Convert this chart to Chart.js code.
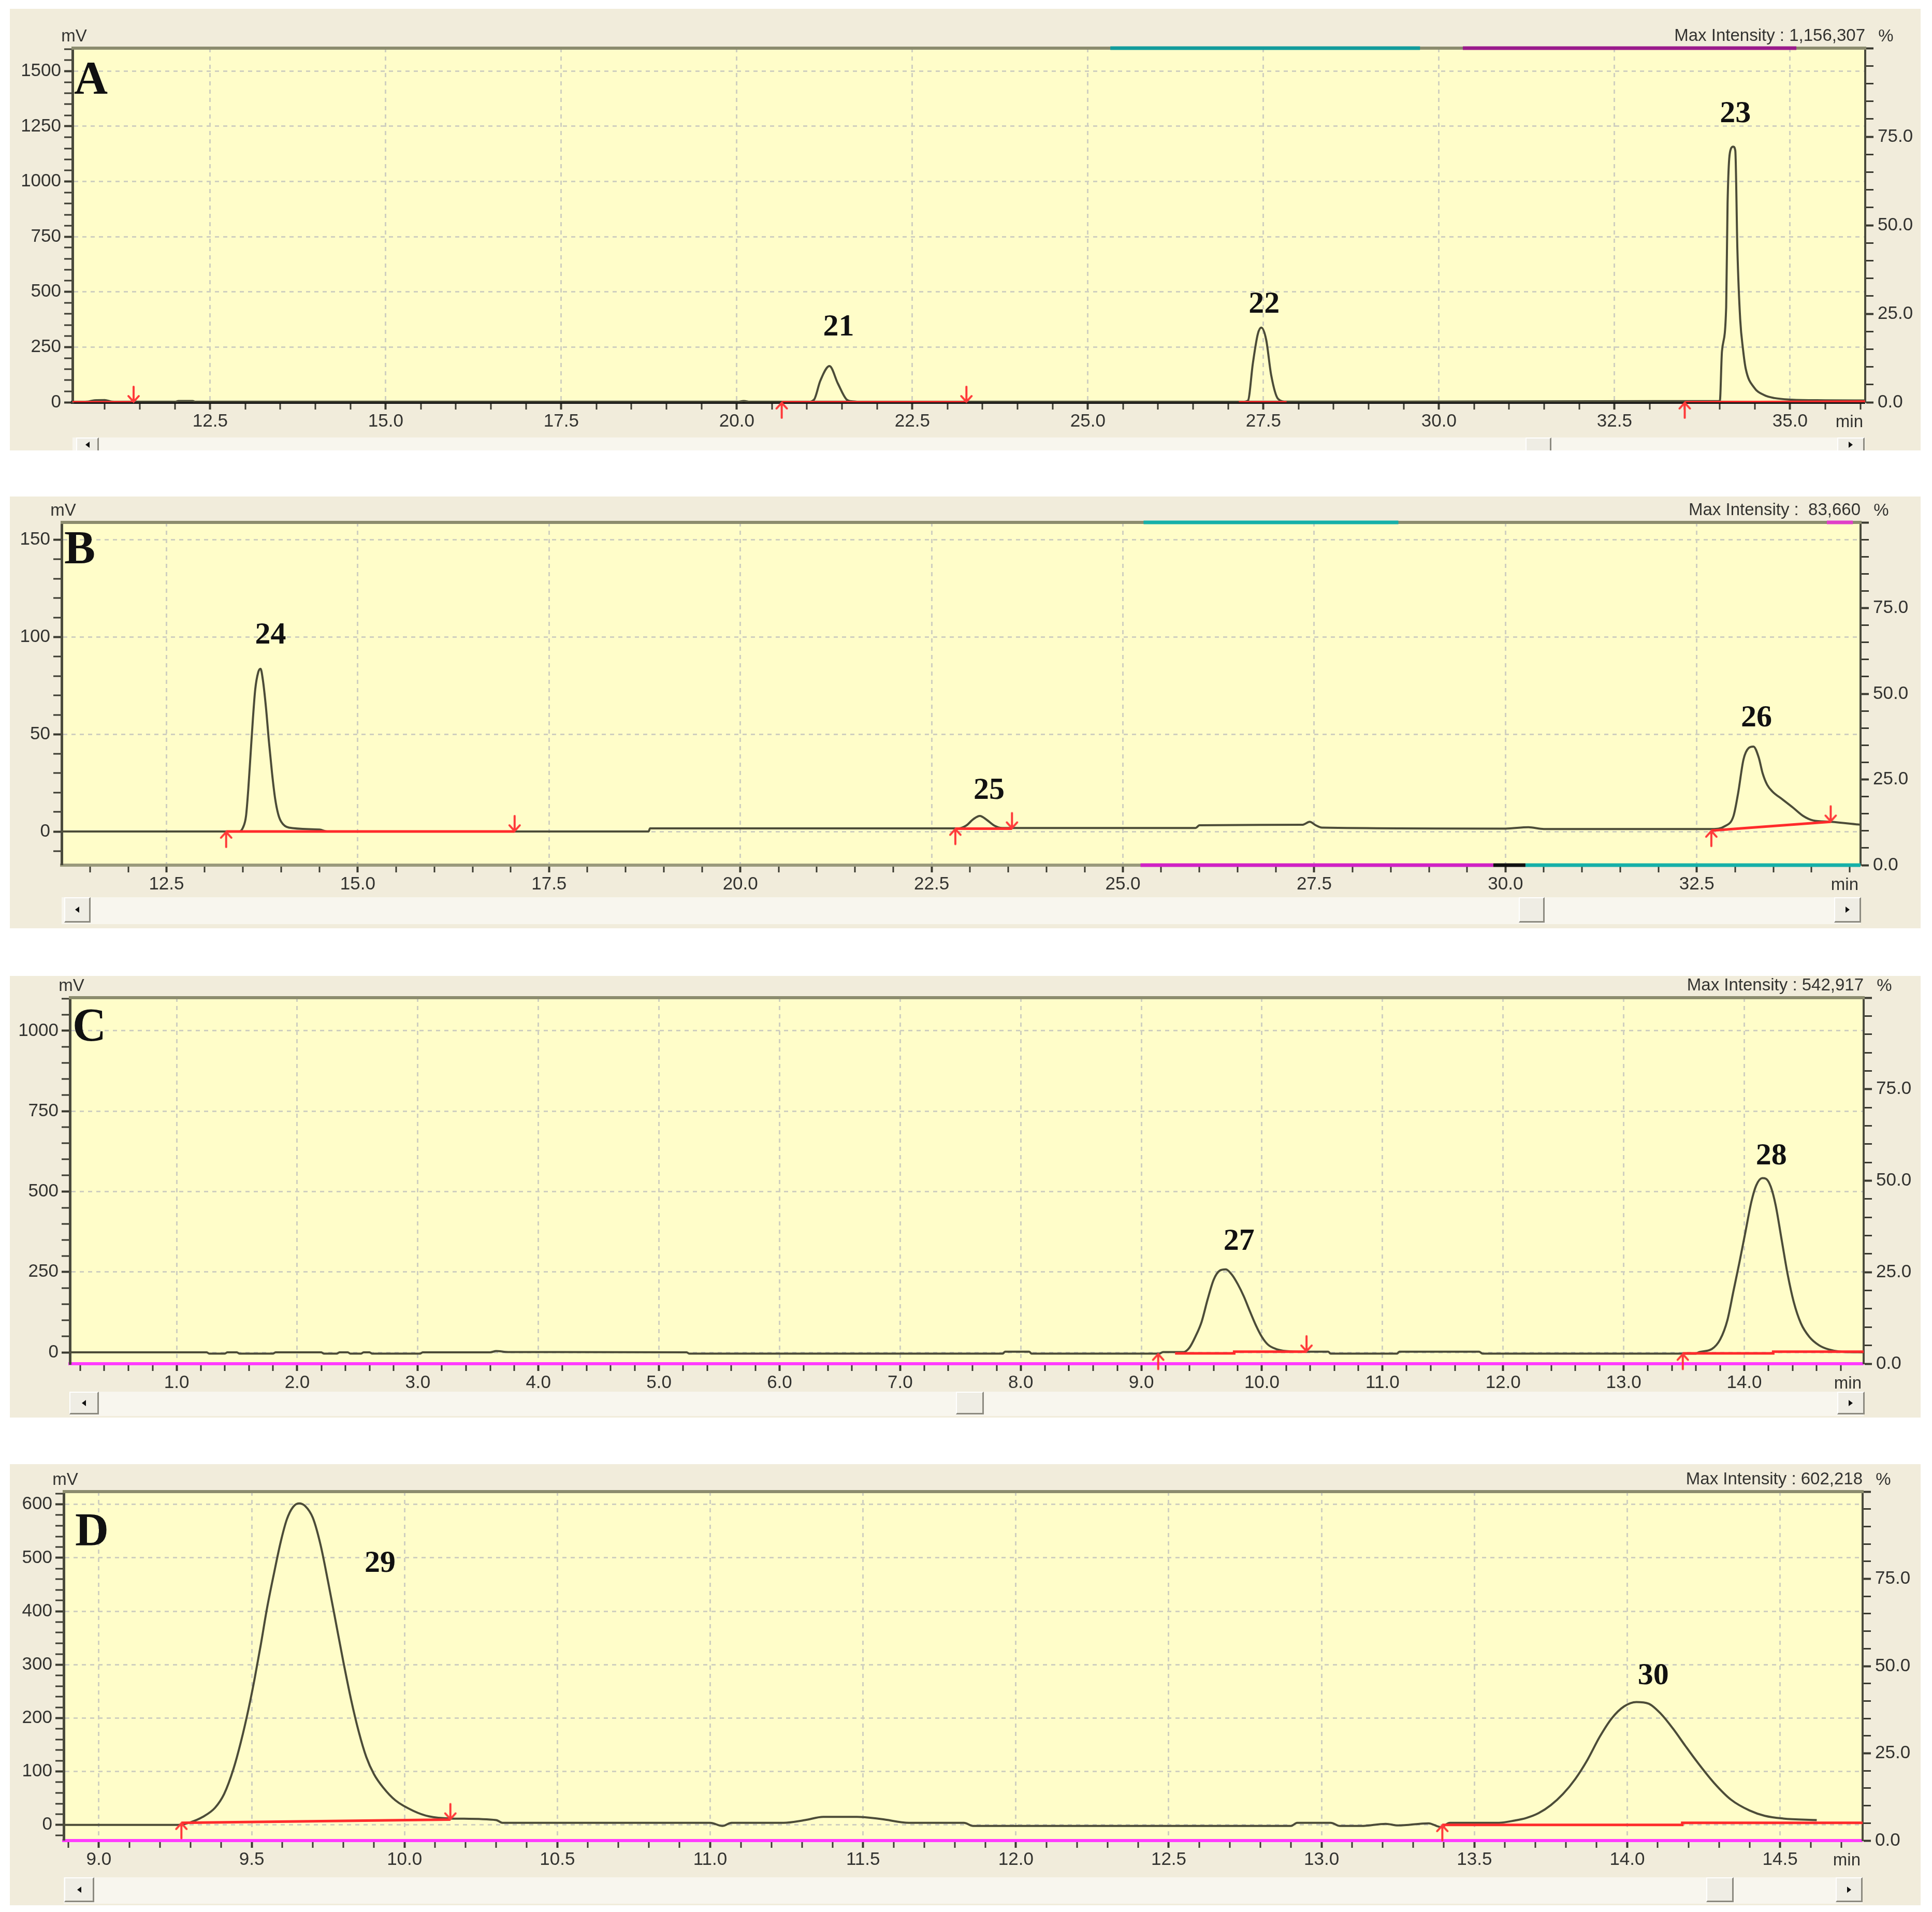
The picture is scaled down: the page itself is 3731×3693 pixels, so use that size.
<!DOCTYPE html>
<html>
<head>
<meta charset="utf-8">
<title>Chromatograms A-D</title>
<script src="https://cdn.jsdelivr.net/npm/chart.js@4.4.1/dist/chart.umd.min.js"></script>
<style>
  html, body { margin: 0; padding: 0; background: #ffffff; }
  body { width: 3731px; height: 3693px; position: relative; overflow: hidden; }
  .panel { position: absolute; background: #f1ecdb; overflow: hidden; }
  .panel canvas { position: absolute; left: 0; top: 0; }
  .scroll { position: absolute; background: #f8f6ee; }
  .btn { position: absolute; top: 3px; bottom: 3px; box-sizing: border-box; background: #efede4;
         border-top: 2px solid #ffffff; border-left: 2px solid #ffffff;
         border-right: 3px solid #8c8a80; border-bottom: 3px solid #8c8a80; }
  .tri { position: absolute; left: 50%; top: 50%; width: 0; height: 0; margin: -6px 0 0 -4px;
         border-top: 6px solid transparent; border-bottom: 6px solid transparent; }
  .tri.l { border-right: 8px solid #111; }
  .tri.r { border-left: 8px solid #111; }
</style>
</head>
<body>
<script>
// ---- panel A ----
var aTime = [10.54, 10.75, 10.85, 11.0, 11.1, 11.5, 12.0, 12.05, 12.25, 12.3, 20.0, 20.1, 20.2, 21.0, 21.1, 21.19, 21.32, 21.44, 21.56, 21.65, 21.8, 27.2, 27.28, 27.35, 27.42, 27.47, 27.54, 27.61, 27.71, 27.83, 34.0, 34.03, 34.09, 34.11, 34.16, 34.19, 34.22, 34.25, 34.29, 34.33, 34.37, 34.49, 34.63, 34.78, 35.02, 35.5, 36.07];
var aSignal = [2, 3, 9, 10, 3, 1, 2, 6, 6, 1, 1, 6, 1, 1, 12, 98, 164, 85, 14, 4, 2, 2, 8, 177, 309, 338, 282, 124, 15, 3, 6, 230, 430, 900, 1150, 1158, 1140, 690, 375, 240, 150, 66, 33, 19, 12, 9, 8];
var aBaseTime = [10.54, 11.41, null, 20.64, 23.27, null, 27.15, 27.83, null, 33.50, 36.07];
var aBaseSignal = [0, 0, null, 0, 0, null, 0, 0, null, 0, 3];
var aStartTime = [20.64, 33.50];
var aStartSignal = [0, 0];
var aEndTime = [11.41, 23.27];
var aEndSignal = [0, 0];
var aPeakNames = ['21', '22', '23'];
var aPeakTime = [21.45, 27.51, 34.22];
var aPeakLevel = [340, 441, 1306];
var aTimeRange = [10.54, 36.07];
var aMvRange = [0, 1604];
var aTimeSteps = [0.5, 2.5];
var aMvSteps = [50, 250];
var aTealSpan = [25.32, 29.73];
var aPurpleSpan = [30.34, 35.09];

// ---- panel B ----
var bTime = [11.13, 13.45, 13.50, 13.54, 13.57, 13.60, 13.63, 13.66, 13.70, 13.73, 13.76, 13.80, 13.84, 13.88, 13.92, 13.96, 14.0, 14.1, 14.5, 14.6, 18.8, 18.82, 22.85, 22.95, 23.05, 23.13, 23.22, 23.32, 23.42, 25.95, 26.0, 27.35, 27.44, 27.52, 27.6, 30.0, 30.3, 30.5, 32.7, 32.87, 32.98, 33.04, 33.11, 33.18, 33.24, 33.31, 33.36, 33.42, 33.49, 33.62, 33.76, 33.89, 34.02, 34.25, 34.64];
var bSignal = [0, 0, 2, 8, 22, 40, 58, 73, 82, 83.7, 78, 64, 46, 30, 17, 9, 5, 2, 1, 0, 0, 1.6, 1.6, 3, 6.5, 8, 6, 3, 1.8, 1.8, 3.2, 3.5, 5, 3.2, 2, 1.5, 2.2, 1.3, 1.3, 2.8, 8, 19.7, 37, 43, 43.7, 38, 30, 24, 20.5, 16.5, 12.2, 8, 5.7, 5, 3.5];
var bBaseTime = [13.28, 17.05, null, 22.81, 23.55, null, 32.69, 34.25];
var bBaseSignal = [0, 0, null, 1.5, 1.5, null, 0.5, 5];
var bStartTime = [13.28, 22.81, 32.69];
var bStartSignal = [0, 1.5, 0.5];
var bEndTime = [17.05, 23.55, 34.25];
var bEndSignal = [0, 1.5, 5];
var bPeakNames = ['24', '25', '26'];
var bPeakTime = [13.86, 23.25, 33.28];
var bPeakLevel = [100.7, 21, 58.3];
var bTimeRange = [11.13, 34.64];
var bMvRange = [-17.3, 159];
var bTimeSteps = [0.5, 2.5];
var bMvSteps = [10, 50];
var bTealTopSpan = [25.27, 28.6];
var bPinkTopSpan = [34.2, 34.54];
var bPinkBottomSpan = [25.23, 29.84];
var bBlackBottomSpan = [29.84, 30.26];
var bTealBottomSpan = [30.26, 34.64];

// ---- panel C ----
var cTime = [0.115, 1.25, 1.27, 1.40, 1.42, 1.50, 1.52, 1.80, 1.82, 2.20, 2.22, 2.33, 2.35, 2.42, 2.44, 2.53, 2.55, 2.60, 2.62, 3.02, 3.04, 3.60, 3.65, 3.75, 5.23, 5.25, 7.85, 7.87, 8.07, 8.09, 9.15, 9.18, 9.35, 9.40, 9.45, 9.50, 9.55, 9.60, 9.65, 9.70, 9.75, 9.80, 9.85, 9.90, 9.95, 10.00, 10.05, 10.12, 10.20, 10.35, 10.55, 10.57, 11.12, 11.14, 11.80, 11.83, 13.60, 13.62, 13.73, 13.80, 13.86, 13.91, 13.96, 14.01, 14.06, 14.10, 14.15, 14.18, 14.22, 14.26, 14.31, 14.36, 14.41, 14.47, 14.54, 14.62, 14.70, 14.80, 14.99];
var cSignal = [0, 0, -4, -4, 0, 0, -4, -4, 0, 0, -4, -4, 0, 0, -4, -4, 0, 0, -4, -4, 0, 0, 4, 1, 0, -4, -4, 2, 2, -4, -4, 1, 1, 15, 50, 95, 165, 226, 254, 258, 242, 212, 174, 128, 84, 48, 24, 10, 4, 2, 2, -4, -4, 2, 2, -4, -4, 0, 10, 40, 100, 190, 280, 375, 470, 520, 542, 540, 515, 458, 350, 242, 157, 90, 48, 22, 9, 2, 0];
var cBaseTime = [9.28, 9.77, 9.77, 10.37, null, 13.49, 14.24, 14.24, 14.99];
var cBaseSignal = [-3, -3, 2, 2, null, -3, -3, 2, 2];
var cStartTime = [9.14, 13.49];
var cStartSignal = [-4, -4];
var cEndTime = [10.37];
var cEndSignal = [2];
var cPeakNames = ['27', '28'];
var cPeakTime = [9.81, 14.225];
var cPeakLevel = [343, 610];
var cTimeRange = [0.115, 14.99];
var cMvRange = [-35.4, 1103];
var cTimeSteps = [0.2, 1.0];
var cMvSteps = [50, 250];

// ---- panel D ----
var dTime = [8.885, 9.26, 9.30, 9.34, 9.38, 9.41, 9.44, 9.465, 9.49, 9.51, 9.53, 9.55, 9.573, 9.595, 9.615, 9.635, 9.655, 9.675, 9.70, 9.725, 9.75, 9.775, 9.80, 9.825, 9.85, 9.875, 9.90, 9.93, 9.97, 10.03, 10.08, 10.15, 10.30, 10.32, 11.00, 11.04, 11.07, 11.24, 11.31, 11.37, 11.48, 11.56, 11.65, 11.83, 11.86, 12.90, 12.92, 13.03, 13.06, 13.13, 13.21, 13.25, 13.35, 13.39, 13.42, 13.58, 13.63, 13.67, 13.71, 13.75, 13.79, 13.83, 13.87, 13.91, 13.95, 13.99, 14.03, 14.07, 14.11, 14.15, 14.19, 14.23, 14.285, 14.34, 14.40, 14.45, 14.51, 14.62];
var dSignal = [0, 0, 5, 15, 32, 58, 104, 156, 218, 275, 338, 405, 471, 530, 572, 595, 602, 597, 575, 525, 455, 380, 305, 235, 175, 127, 95, 70, 46, 26, 16, 12, 9, 4, 4, -2, 4, 4, 9, 15, 15, 11, 4, 4, -2, -2, 4, 4, -2, -2, 2, -1, 3, -4, 4, 4, 8, 13, 22, 37, 58, 86, 122, 165, 200, 222, 230, 227, 208, 180, 148, 117, 78, 47, 27, 17, 12, 9];
var dBaseTime = [9.27, 10.15, null, 13.395, 14.18, 14.18, 14.77];
var dBaseSignal = [4, 10, null, 0, 0, 4, 4];
var dStartTime = [9.27, 13.395];
var dStartSignal = [4, 0];
var dEndTime = [10.15];
var dEndSignal = [10];
var dPeakNames = ['29', '30'];
var dPeakTime = [9.92, 14.085];
var dPeakLevel = [489, 278];
var dTimeRange = [8.885, 14.77];
var dMvRange = [-29.3, 624];
var dTimeSteps = [0.1, 0.5];
var dMvSteps = [20, 100];

var percentRange = [0, 100];
var percentSteps = [5, 25];

Chart.defaults.font.family = '"Liberation Sans", Arial, sans-serif';

function pts(xs, ys) {
  return xs.map(function (x, i) { return { x: x, y: ys[i] }; });
}

function isMajor(v, step) {
  return Math.abs(v / step - Math.round(v / step)) < 1e-6;
}

// red integration marks: tip sits on the baseline point
function arrowImage(dir) {
  var c = document.createElement('canvas');
  c.width = 30; c.height = 66;
  var g = c.getContext('2d');
  g.strokeStyle = '#ff3a3a';
  g.lineWidth = 4;
  g.lineCap = 'round';
  g.beginPath();
  if (dir === 'down') {
    g.moveTo(15, 3); g.lineTo(15, 32);
    g.moveTo(5, 21); g.lineTo(15, 32); g.lineTo(25, 21);
  } else {
    g.moveTo(15, 63); g.lineTo(15, 34);
    g.moveTo(5, 45); g.lineTo(15, 34); g.lineTo(25, 45);
  }
  g.stroke();
  return c;
}
var upArrow = arrowImage('up');
var downArrow = arrowImage('down');

var panels = [
  { letter: 'A', box: [19, 17, 3709, 870], plot: [140, 93, 3602, 777], letterAt: [3, 88],
    time: aTime, signal: aSignal, baseTime: aBaseTime, baseSignal: aBaseSignal,
    startTime: aStartTime, startSignal: aStartSignal, endTime: aEndTime, endSignal: aEndSignal,
    peakNames: aPeakNames, peakTime: aPeakTime, peakLevel: aPeakLevel,
    timeRange: aTimeRange, mvRange: aMvRange, timeSteps: aTimeSteps, mvSteps: aMvSteps,
    maxText: '1,156,307', axisColor: '#151515',
    bars: [ { span: aTealSpan, edge: 'top', color: '#129c9c' },
            { span: aPurpleSpan, edge: 'top', color: '#9a1a8c' } ],
    scroll: [845, 876], leftBtn: [147, 191], thumb: [2946, 2996], rightBtn: [3548, 3601] },
  { letter: 'B', box: [19, 959, 3709, 1793], plot: [119, 1009, 3593, 1671], letterAt: [5, 79],
    time: bTime, signal: bSignal, baseTime: bBaseTime, baseSignal: bBaseSignal,
    startTime: bStartTime, startSignal: bStartSignal, endTime: bEndTime, endSignal: bEndSignal,
    peakNames: bPeakNames, peakTime: bPeakTime, peakLevel: bPeakLevel,
    timeRange: bTimeRange, mvRange: bMvRange, timeSteps: bTimeSteps, mvSteps: bMvSteps,
    maxText: ' 83,660', axisColor: '#9a9a7c',
    bars: [ { span: bTealTopSpan, edge: 'top', color: '#16b0a8' },
            { span: bPinkTopSpan, edge: 'top', color: '#e040c8' },
            { span: bPinkBottomSpan, edge: 'bottom', color: '#d022c4' },
            { span: bBlackBottomSpan, edge: 'bottom', color: '#111111' },
            { span: bTealBottomSpan, edge: 'bottom', color: '#16b0a8' } ],
    scroll: [1733, 1785], leftBtn: [124, 175], thumb: [2933, 2983], rightBtn: [3542, 3594] },
  { letter: 'C', box: [19, 1885, 3709, 2738], plot: [135, 1927, 3599, 2634], letterAt: [5, 83],
    time: cTime, signal: cSignal, baseTime: cBaseTime, baseSignal: cBaseSignal,
    startTime: cStartTime, startSignal: cStartSignal, endTime: cEndTime, endSignal: cEndSignal,
    peakNames: cPeakNames, peakTime: cPeakTime, peakLevel: cPeakLevel,
    timeRange: cTimeRange, mvRange: cMvRange, timeSteps: cTimeSteps, mvSteps: cMvSteps,
    maxText: '542,917', axisColor: '#ff3cff', bars: [],
    scroll: [2688, 2735], leftBtn: [134, 191], thumb: [1846, 1900], rightBtn: [3548, 3601] },
  { letter: 'D', box: [19, 2828, 3709, 3680], plot: [123, 2881, 3597, 3555], letterAt: [22, 104],
    time: dTime, signal: dSignal, baseTime: dBaseTime, baseSignal: dBaseSignal,
    startTime: dStartTime, startSignal: dStartSignal, endTime: dEndTime, endSignal: dEndSignal,
    peakNames: dPeakNames, peakTime: dPeakTime, peakLevel: dPeakLevel,
    timeRange: dTimeRange, mvRange: dMvRange, timeSteps: dTimeSteps, mvSteps: dMvSteps,
    maxText: '602,218', axisColor: '#ff3cff', bars: [],
    scroll: [3626, 3677], leftBtn: [124, 182], thumb: [3295, 3348], rightBtn: [3545, 3597] }
];

function box(parent, cls, left, top, width, height) {
  var d = document.createElement('div');
  d.className = cls;
  d.style.left = left + 'px';
  d.style.top = top + 'px';
  d.style.width = width + 'px';
  if (height !== null) d.style.height = height + 'px';
  parent.appendChild(d);
  return d;
}

function makePanel(p) {
  var bx = p.box[0], by = p.box[1];
  var w = p.box[2] - bx, h = p.box[3] - by;
  var div = box(document.body, 'panel', bx, by, w, h);

  var canvas = document.createElement('canvas');
  canvas.width = w; canvas.height = h;
  canvas.style.width = w + 'px'; canvas.style.height = h + 'px';
  div.appendChild(canvas);

  // scroll bar under the plot
  var sb = box(div, 'scroll', p.plot[0] - bx, p.scroll[0] - by, p.plot[2] - p.plot[0], p.scroll[1] - p.scroll[0]);
  var lb = box(sb, 'btn', p.leftBtn[0] - p.plot[0], 0, p.leftBtn[1] - p.leftBtn[0], null);
  box(lb, 'tri l', 0, 0, 0, 0).style.left = '50%';
  box(sb, 'btn', p.thumb[0] - p.plot[0], 0, p.thumb[1] - p.thumb[0], null);
  var rb = box(sb, 'btn', p.rightBtn[0] - p.plot[0], 0, p.rightBtn[1] - p.rightBtn[0], null);
  box(rb, 'tri r', 0, 0, 0, 0).style.left = '50%';
  [lb, rb].forEach(function (b) { b.firstChild.style.top = '50%'; });

  var leftW = p.plot[0] - bx;
  var rightW = p.box[2] - p.plot[2];
  var topPad = p.plot[1] - by;
  var bottomH = p.box[3] - p.plot[3];

  var datasets = [
    { label: 'start', data: pts(p.startTime, p.startSignal), showLine: false,
      pointStyle: upArrow, pointRadius: 12, clip: false, order: 0 },
    { label: 'end', data: pts(p.endTime, p.endSignal), showLine: false,
      pointStyle: downArrow, pointRadius: 12, clip: false, order: 0 },
    { label: 'baseline', data: pts(p.baseTime, p.baseSignal), borderColor: '#ff2b2b',
      borderWidth: 5, pointRadius: 0, spanGaps: false, order: 1 },
    { label: 'signal', data: pts(p.time, p.signal), borderColor: '#4c4c38',
      borderWidth: 4, pointRadius: 0, cubicInterpolationMode: 'monotone', order: 2 }
  ];
  p.bars.forEach(function (b) {
    var yv = b.edge === 'top' ? p.mvRange[1] : p.mvRange[0];
    datasets.push({ label: 'event', data: pts(b.span, [yv, yv]), borderColor: b.color,
      borderWidth: 7, pointRadius: 0, clip: false, order: 3 });
  });

  var decor = {
    id: 'decor' + p.letter,
    beforeDraw: function (chart) {
      var a = chart.chartArea, ctx = chart.ctx;
      ctx.save();
      ctx.fillStyle = '#fffdc9';
      ctx.fillRect(a.left, a.top, a.right - a.left, a.bottom - a.top);
      ctx.restore();
    },
    beforeDatasetsDraw: function (chart) {
      var a = chart.chartArea, ctx = chart.ctx;
      ctx.save();
      ctx.strokeStyle = '#8c8c6e';
      ctx.lineWidth = 6;
      ctx.beginPath();
      ctx.moveTo(a.left - 2, a.top);
      ctx.lineTo(a.right + 2, a.top);
      ctx.stroke();
      ctx.restore();
    },
    afterDatasetsDraw: function (chart) {
      var a = chart.chartArea, ctx = chart.ctx;
      var xs = chart.scales.x, ys = chart.scales.y;
      ctx.save();
      ctx.fillStyle = '#111111';
      ctx.font = 'bold 60px "Liberation Serif", serif';
      ctx.textAlign = 'center';
      ctx.textBaseline = 'middle';
      p.peakNames.forEach(function (n, i) {
        ctx.fillText(n, xs.getPixelForValue(p.peakTime[i]), ys.getPixelForValue(p.peakLevel[i]));
      });
      ctx.font = 'bold 90px "Liberation Serif", serif';
      ctx.textAlign = 'left';
      ctx.textBaseline = 'alphabetic';
      ctx.fillText(p.letter, a.left + p.letterAt[0], a.top + p.letterAt[1]);

      ctx.fillStyle = '#333330';
      ctx.font = '33px "Liberation Sans", Arial, sans-serif';
      ctx.textBaseline = 'middle';
      ctx.textAlign = 'center';
      ctx.fillText('mV', a.left + 3, a.top - 22);
      ctx.textAlign = 'right';
      ctx.fillText('Max Intensity : ' + p.maxText, a.right, a.top - 23);
      ctx.textAlign = 'center';
      ctx.fillText('%', a.right + 40, a.top - 22);
      ctx.textAlign = 'right';
      ctx.fillText('min', a.right - 4, a.bottom + 39);
      ctx.restore();
    }
  };

  var tickFont = { family: '"Liberation Sans", Arial, sans-serif', size: 35 };
  var gridDash = [8, 8];

  new Chart(canvas.getContext('2d'), {
    type: 'line',
    data: { datasets: datasets },
    options: {
      responsive: false,
      animation: false,
      devicePixelRatio: 1,
      layout: { padding: { top: topPad, left: 0, right: 0, bottom: 0 } },
      plugins: { legend: { display: false }, tooltip: { enabled: false } },
      scales: {
        x: {
          type: 'linear',
          min: p.timeRange[0], max: p.timeRange[1],
          afterFit: function (s) { s.height = bottomH; },
          ticks: {
            stepSize: p.timeSteps[0], autoSkip: false, includeBounds: false, maxRotation: 0,
            padding: 2, color: '#333330', font: tickFont,
            callback: function (v) { return isMajor(v, p.timeSteps[1]) ? v.toFixed(1) : ''; }
          },
          grid: {
            color: '#cfcfbf',
            lineWidth: function (ctx) { return ctx.tick && isMajor(ctx.tick.value, p.timeSteps[1]) ? 3 : 0; },
            tickColor: '#3a3a30',
            tickWidth: function (ctx) { return ctx.tick && isMajor(ctx.tick.value, p.timeSteps[1]) ? 4 : 3; },
            tickLength: 14
          },
          border: { display: true, color: p.axisColor, width: 6, dash: gridDash }
        },
        y: {
          type: 'linear', position: 'left',
          min: p.mvRange[0], max: p.mvRange[1],
          afterFit: function (s) { s.width = leftW; },
          ticks: {
            stepSize: p.mvSteps[0], autoSkip: false, includeBounds: false,
            padding: 6, color: '#333330', font: tickFont,
            callback: function (v) { return isMajor(v, p.mvSteps[1]) ? String(Math.round(v)) : ''; }
          },
          grid: {
            color: '#cfcfbf',
            lineWidth: function (ctx) { return ctx.tick && isMajor(ctx.tick.value, p.mvSteps[1]) ? 3 : 0; },
            tickColor: '#3a3a30',
            tickWidth: function (ctx) { return ctx.tick && isMajor(ctx.tick.value, p.mvSteps[1]) ? 4 : 3; },
            tickLength: 16
          },
          border: { display: true, color: '#4a4a3c', width: 5, dash: gridDash }
        },
        y1: {
          type: 'linear', position: 'right',
          min: percentRange[0], max: percentRange[1],
          afterFit: function (s) { s.width = rightW; },
          ticks: {
            stepSize: percentSteps[0], autoSkip: false, includeBounds: false,
            padding: 8, color: '#333330', font: tickFont,
            callback: function (v) { return isMajor(v, percentSteps[1]) && v < percentRange[1] ? v.toFixed(1) : ''; }
          },
          grid: {
            drawOnChartArea: false,
            color: '#3a3a30',
            tickColor: '#3a3a30',
            tickWidth: function (ctx) { return ctx.tick && isMajor(ctx.tick.value, percentSteps[1]) ? 4 : 3; },
            tickLength: 16
          },
          border: { display: true, color: '#4a4a3c', width: 4 }
        }
      }
    },
    plugins: [decor]
  });
}

panels.forEach(makePanel);
</script>
</body>
</html>
